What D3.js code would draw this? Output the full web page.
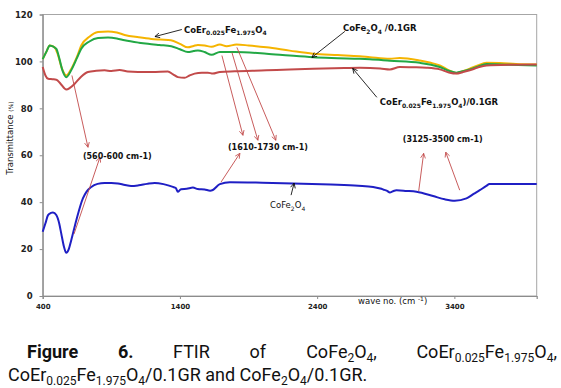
<!DOCTYPE html>
<html>
<head>
<meta charset="utf-8">
<script src="https://cdn.jsdelivr.net/npm/d3@7"></script>
<style>
  body { margin: 0; background: #fff; }
  svg { display: block; }
</style>
</head>
<body>
<svg id="chart" width="561" height="388"></svg>
<script>
// FTIR spectra, [wave number (cm-1), transmittance (%)]
const coErData = [[400,101],[430,104.5],[451,106.8],[487,106],[510,103],[540,97],[572,94],[610,97],[650,102],[681,106.8],[740,110.5],[803,112.5],[876,112.8],[940,112.3],[997,111.3],[1100,110.3],[1191,109.6],[1260,109.3],[1334,109],[1400,107.5],[1458,106],[1500,106.6],[1531,107],[1580,106.8],[1631,106.2],[1691,107.2],[1740,106.5],[1813,107.2],[1900,106.8],[2031,106],[2200,104.6],[2369,103.3],[2550,102.7],[2711,102.2],[2784,101.8],[2930,101.1],[3002,101.5],[3148,100.4],[3220,99.5],[3294,98.3],[3360,96.2],[3415,95],[3460,95.8],[3512,96.9],[3570,98.3],[3634,99.4],[3731,99.3],[3850,98.9],[4000,98.7]];
const coFeGrData = [[400,101],[430,104.5],[451,106.8],[499,105.4],[520,101.5],[545,96],[572,93.3],[610,96.5],[650,101.5],[681,105.4],[740,108.5],[803,110],[876,110.2],[940,109.8],[997,109],[1100,108],[1167,107.5],[1250,107],[1337,106.5],[1400,105.2],[1458,104],[1500,104.4],[1531,104.7],[1580,104],[1631,102.8],[1691,104],[1800,104],[2031,103.3],[2200,102.5],[2370,101.8],[2550,101.4],[2711,101.1],[2784,100.9],[2930,100.3],[3148,99.4],[3230,98.6],[3294,97.6],[3360,96],[3415,95.2],[3460,95.8],[3512,96.6],[3570,97.8],[3634,98.9],[3800,98.6],[4000,98.3]];
const coErGrData = [[400,97.6],[420,94],[440,92.6],[470,92.4],[499,92.2],[530,90.5],[572,88],[600,88.8],[633,90.5],[680,93.5],[730,95.5],[790,96],[851,96.2],[900,95.9],[960,96.3],[1020,95.7],[1094,95.5],[1200,95.5],[1312,95.7],[1350,94.5],[1385,93.3],[1434,93],[1470,94],[1507,94.8],[1560,95.2],[1604,95.2],[1640,94.8],[1691,95.5],[1800,95.8],[2031,96.2],[2200,96.6],[2370,96.9],[2600,97.2],[2711,97.3],[2860,97],[2930,96.6],[3002,97.6],[3100,97.5],[3197,97.3],[3294,96.6],[3360,95.3],[3415,94.8],[3460,95.4],[3512,96.2],[3570,97.4],[3634,98.3],[3800,98.6],[4000,98.7]];
const coFeData = [[400,27.4],[420,31],[439,34.5],[460,35.4],[475,35.6],[499,34.5],[520,31],[535,26.7],[555,21],[572,18.4],[590,20],[608,23.8],[645,32.3],[693,41.6],[720,44.5],[754,46.5],[800,47.8],[851,48.2],[900,48.2],[948,48],[1000,47.3],[1045,46.9],[1100,47.2],[1160,47.8],[1216,48.2],[1280,47.7],[1349,46.5],[1370,46],[1385,44.4],[1400,45.2],[1409,45.5],[1450,45.7],[1495,46.2],[1530,45.6],[1580,45.4],[1620,44.9],[1640,45.2],[1691,47.7],[1764,48.5],[2000,48.3],[2225,48],[2500,47.5],[2700,47],[2808,46.5],[2860,45.8],[2881,45.4],[2910,44.8],[2930,44.1],[2950,44.6],[2978,45.1],[3050,44.8],[3124,44.4],[3245,42.6],[3330,41.2],[3403,40.6],[3488,41.6],[3540,43.5],[3585,45.1],[3630,46.8],[3657,47.7],[3800,47.7],[4000,47.7]];

const xTicks = [400, 1400, 2400, 3400];
const yTicks = [0, 20, 40, 60, 80, 100, 120];

// curve labels and band labels: [text, wave no., transmittance at baseline, bold]
const curveLabels = [
  ["CoEr_{0.025}Fe_{1.975}O_4", 1429, 112.3, true],
  ["CoFe_2O_4 /0.1GR", 2588, 112.8, true],
  ["CoEr_{0.025}Fe_{1.975}O_4)/0.1GR", 2857, 81.3, true],
  ["CoFe_2O_4", 2057, 37.4, false]
];
const bandLabels = [
  ["(560-600 cm-1)", 693, 58.3],
  ["(1610-1730 cm-1)", 1750, 62.1],
  ["(3125-3500 cm-1)", 3024, 65.5]
];
// arrows [from wn, from T, to wn, to T]
const blackArrows = [
  [1414, 113.6, 1218, 110.6],
  [2602, 112.8, 2362, 101.7],
  [2835, 84.7, 2659, 97],
  [2210, 43, 2232, 48.1]
];
const redArrows = [
  [613, 94, 730, 63.4],
  [628, 26.4, 817, 59.1],
  [1706, 102.5, 1859, 68.5],
  [1779, 103.8, 1968, 66.4],
  [1815, 106, 2099, 66.4],
  [1699, 48.5, 1837, 60.8],
  [3140, 44.7, 3176, 60.8],
  [3439, 45.1, 3337, 61.3]
];

const series = [
  {data: coErData, color: "#f5b400"},
  {data: coFeGrData, color: "#22a845"},
  {data: coErGrData, color: "#c24a4a"},
  {data: coFeData, color: "#1f1fc4"}
];

const svg = d3.select("#chart");
const font = "DejaVu Sans, Verdana, sans-serif";

const x = d3.scaleLinear().domain([400, 4000]).range([42.7, 536.7]);
const y = d3.scaleLinear().domain([0, 120]).range([296, 14.5]);

// write a string with _{sub} / ^{sup} parts as tspans
function rich(sel, str, subSize, shift) {
  const parts = [];
  const re = /([_^])(\{[^}]*\}|.)/g;
  let last = 0, m;
  while ((m = re.exec(str))) {
    if (m.index > last) parts.push([str.slice(last, m.index), 0]);
    parts.push([m[2].replace(/[{}]/g, ""), m[1] === "_" ? 1 : -1]);
    last = re.lastIndex;
  }
  if (last < str.length) parts.push([str.slice(last), 0]);
  let cur = 0;
  parts.forEach(([t, s]) => {
    const target = s * shift;
    const ts = sel.append("tspan").text(t);
    if (target !== cur) ts.attr("dy", target - cur);
    if (s) ts.attr("font-size", subSize);
    cur = target;
  });
  return sel;
}

const defs = svg.append("defs");
[["ah-k", "#000"], ["ah-r", "#c24a4a"]].forEach(([id, c]) => {
  defs.append("marker").attr("id", id)
    .attr("viewBox", "0 0 10 10").attr("refX", 9).attr("refY", 5)
    .attr("markerWidth", 6).attr("markerHeight", 6)
    .attr("markerUnits", "userSpaceOnUse").attr("orient", "auto")
    .append("path").attr("d", "M1,1 L9,5 L1,9")
    .attr("fill", "none").attr("stroke", c).attr("stroke-width", 1.3);
});

// frame
svg.append("rect")
  .attr("x", x(400)).attr("y", y(120))
  .attr("width", x(4000) - x(400)).attr("height", y(0) - y(120))
  .attr("fill", "none").attr("stroke", "#a6a6a6").attr("stroke-width", 1);

// axes
const xAxis = svg.append("g").attr("transform", `translate(0,${y(0)})`)
  .call(d3.axisBottom(x).tickValues(xTicks).tickFormat(d3.format("d")).tickSize(3).tickPadding(5));
const yAxis = svg.append("g").attr("transform", `translate(${x(400)},0)`)
  .call(d3.axisLeft(y).tickValues(yTicks).tickSize(3).tickPadding(7));
[xAxis, yAxis].forEach(a => {
  a.select(".domain").attr("stroke", "#8c8c8c").attr("stroke-width", 1.2);
  a.selectAll(".tick line").attr("stroke", "#8c8c8c");
  a.selectAll("text").attr("font-family", font).attr("font-weight", "bold").attr("fill", "#222");
});
xAxis.selectAll("text").attr("font-size", 7);
yAxis.selectAll("text").attr("font-size", 8.5);

// axis titles
rich(svg.append("text")
  .attr("x", 358).attr("y", y(0) + 8)
  .attr("font-family", font).attr("font-size", 8.5).attr("fill", "#111"),
  "wave no. (cm ^{-1})", 6, 3);
const yt = svg.append("text")
  .attr("transform", `translate(13,${y(0) - 158}) rotate(-90)`)
  .attr("text-anchor", "middle")
  .attr("font-family", font).attr("font-size", 8.5).attr("fill", "#111");
yt.append("tspan").text("Transmittance ");
yt.append("tspan").attr("font-size", 6).text("(%)");

// spectra
const line = d3.line().x(d => x(d[0])).y(d => y(d[1])).curve(d3.curveMonotoneX);
svg.append("g").selectAll("path").data(series).join("path")
  .attr("d", d => line(d.data))
  .attr("fill", "none")
  .attr("stroke", d => d.color)
  .attr("stroke-width", 2);

// arrows
svg.append("g").selectAll("line").data(redArrows).join("line")
  .attr("x1", d => x(d[0])).attr("y1", d => y(d[1]))
  .attr("x2", d => x(d[2])).attr("y2", d => y(d[3]))
  .attr("stroke", "#c24a4a").attr("stroke-width", 0.9)
  .attr("marker-end", "url(#ah-r)");
svg.append("g").selectAll("line").data(blackArrows).join("line")
  .attr("x1", d => x(d[0])).attr("y1", d => y(d[1]))
  .attr("x2", d => x(d[2])).attr("y2", d => y(d[3]))
  .attr("stroke", "#111").attr("stroke-width", 0.9)
  .attr("marker-end", "url(#ah-k)");

// labels
curveLabels.forEach(([t, wn, v, bold]) => {
  rich(svg.append("text")
    .attr("x", x(wn)).attr("y", y(v))
    .attr("font-family", font).attr("font-size", 8.5)
    .attr("font-weight", bold ? "bold" : "normal").attr("fill", "#111"),
    t, 6, 2.5);
});
bandLabels.forEach(([t, wn, v]) => {
  svg.append("text")
    .attr("x", x(wn)).attr("y", y(v))
    .attr("font-family", font).attr("font-size", 8)
    .attr("font-weight", "bold").attr("fill", "#111")
    .text(t);
});

// caption, first line justified between its edges
const capFont = "Roboto, 'Noto Sans', sans-serif";
const capWords = [
  ["Figure", true], ["6.", true], ["FTIR", false], ["of", false],
  ["CoFe_2O_4,", false], ["CoEr_{0.025}Fe_{1.975}O_4,", false]
];
const cap = svg.append("g").attr("font-family", capFont).attr("font-size", 18).attr("fill", "#111");
const wordNodes = capWords.map(([w, b]) =>
  rich(cap.append("text").attr("y", 358).attr("font-weight", b ? "bold" : "normal"), w, 12, 3.5));
const widths = wordNodes.map(n => n.node().getBBox().width);
const left = 27, right = 557;
const gap = (right - left - d3.sum(widths)) / (capWords.length - 1);
let cx = left;
wordNodes.forEach((n, i) => { n.attr("x", cx); cx += widths[i] + gap; });
rich(cap.append("text").attr("x", 8).attr("y", 381),
  "CoEr_{0.025}Fe_{1.975}O_4/0.1GR and CoFe_2O_4/0.1GR.", 12, 3.5);
</script>
</body>
</html>
